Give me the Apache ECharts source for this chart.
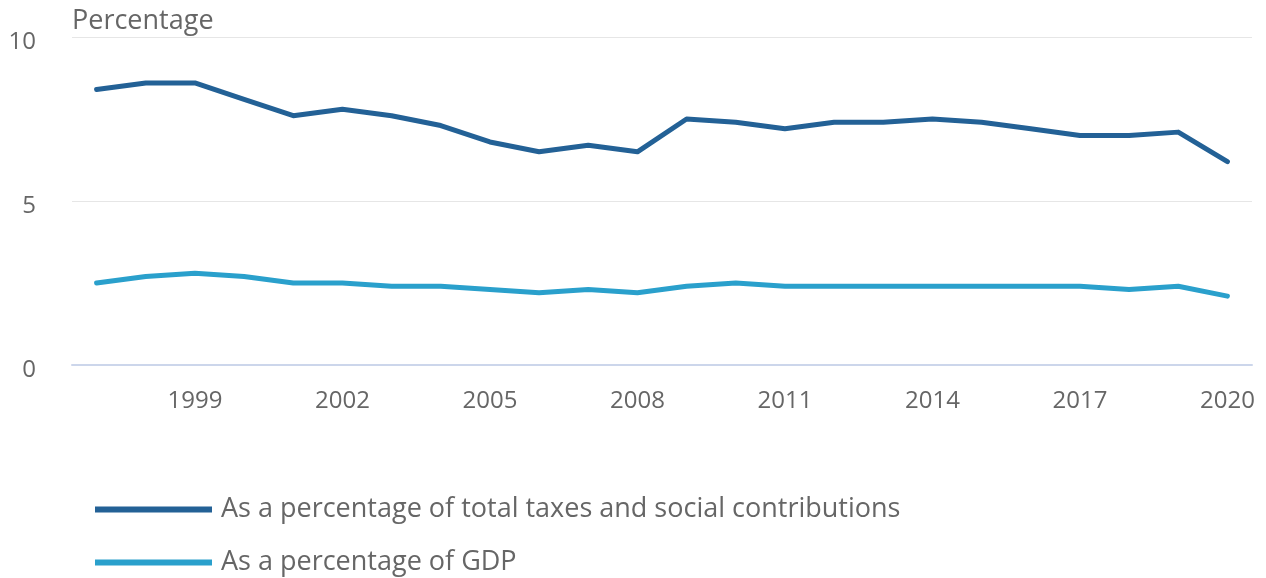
<!DOCTYPE html>
<html><head><meta charset="utf-8">
<script src="https://cdn.jsdelivr.net/npm/echarts@6/dist/echarts.min.js"></script>
<style>html,body{margin:0;padding:0;background:#fff}#c{width:1266px;height:578px}</style>
</head><body><div id="c"></div>
<script>
const years = ['1997','1998','1999','2000','2001','2002','2003','2004','2005','2006','2007','2008','2009','2010','2011','2012','2013','2014','2015','2016','2017','2018','2019','2020'];
const totalTaxes = [8.4,8.6,8.6,8.1,7.6,7.8,7.6,7.3,6.8,6.5,6.7,6.5,7.5,7.4,7.2,7.4,7.4,7.5,7.4,7.2,7.0,7.0,7.1,6.2];
const gdp = [2.5,2.7,2.8,2.7,2.5,2.5,2.4,2.4,2.3,2.2,2.3,2.2,2.4,2.5,2.4,2.4,2.4,2.4,2.4,2.4,2.4,2.3,2.4,2.1];
const seriesNames = ['As a percentage of total taxes and social contributions','As a percentage of GDP'];
const yTicks = [0,5,10];
const font = '"Open Sans", sans-serif';
const chart = echarts.init(document.getElementById('c'));
const showIdx = (i) => (i - 2) % 3 === 0;
chart.setOption({
  animation: false,
  textStyle: {fontFamily: font},
  grid: {left: 72, right: 14, top: 37, bottom: 213},
  xAxis: {
    type: 'category', data: years, boundaryGap: true,
    axisLine: {lineStyle: {color: '#ccd6eb', width: 2}},
    axisTick: {alignWithLabel: true, interval: (i) => showIdx(i), length: 10, lineStyle: {color: '#ccd6eb', width: 1}},
    axisLabel: {interval: (i) => showIdx(i), color: '#666', fontSize: 24, fontFamily: font, margin: 24}
  },
  yAxis: {
    type: 'value', min: yTicks[0], max: yTicks[2], interval: 5,
    name: 'Percentage', nameLocation: 'end', nameGap: 2,
    nameTextStyle: {color: '#666', fontSize: 27, fontFamily: font, align: 'left'},
    axisLine: {show: false}, axisTick: {show: false},
    axisLabel: {color: '#666', fontSize: 24, fontFamily: font, margin: 36, align: 'right',
      formatter: (v) => '{a|' + v + '}',
      rich: {a: {color: '#666', fontSize: 24, fontFamily: font, padding: [10, 0, 0, 0]}}},
    splitLine: {lineStyle: {color: '#e6e6e6', width: 1}}
  },
  legend: {
    orient: 'vertical', left: 95, top: 496, height: 82, padding: 0, itemGap: 26,
    icon: 'rect', itemWidth: 117, itemHeight: 6,
    textStyle: {color: '#666', fontSize: 27, fontFamily: font, padding: [0,0,0,4]},
    data: seriesNames
  },
  series: [
    {name: seriesNames[0], type: 'line', data: totalTaxes, showSymbol: false, symbol: 'none',
     lineStyle: {color: '#236196', width: 5, cap: 'round', join: 'round'}, itemStyle: {color: '#236196'}},
    {name: seriesNames[1], type: 'line', data: gdp, showSymbol: false, symbol: 'none',
     lineStyle: {color: '#2aa0cc', width: 5, cap: 'round', join: 'round'}, itemStyle: {color: '#2aa0cc'}}
  ]
});
</script></body></html>
